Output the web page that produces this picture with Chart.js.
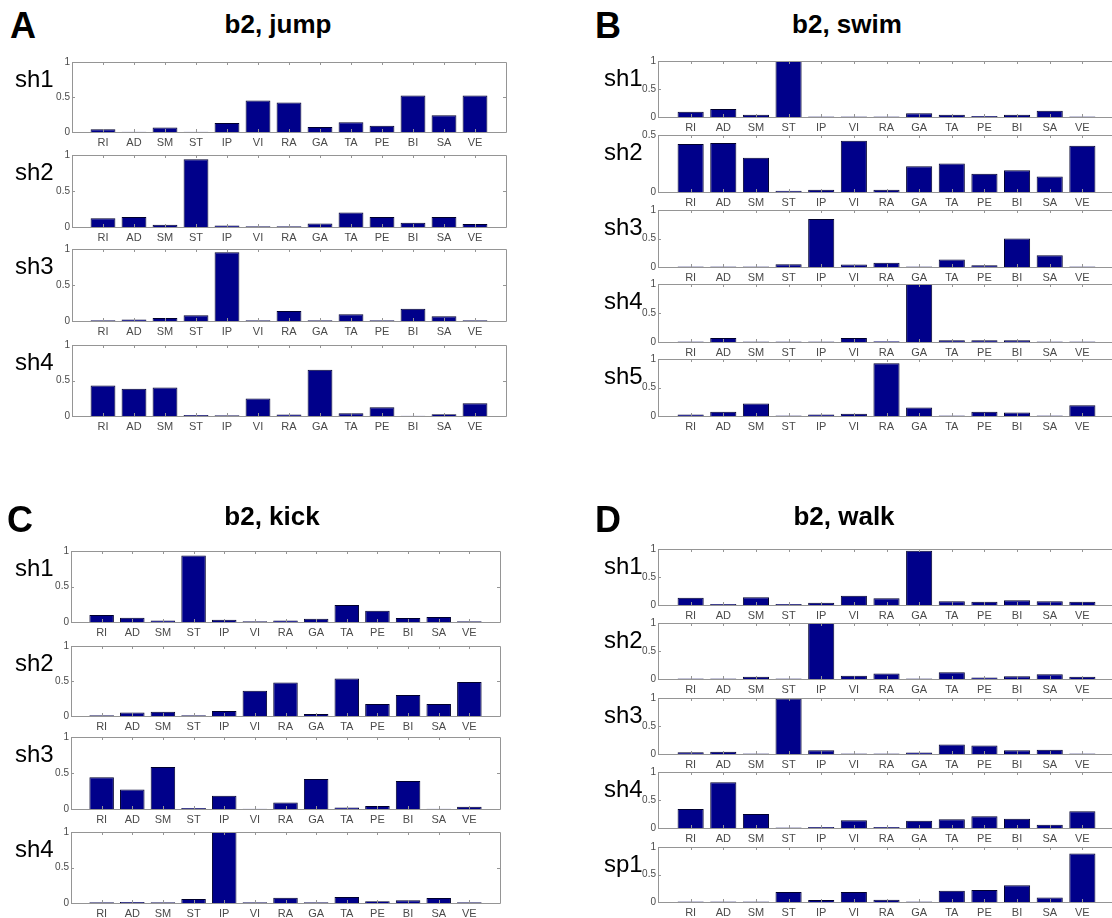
<!DOCTYPE html>
<html>
<head>
<meta charset="utf-8">
<script src="https://cdn.jsdelivr.net/npm/chart.js@4"></script>
<style>
  html, body { margin: 0; padding: 0; background: #fff; }
  #fig { position: relative; width: 1112px; height: 918px; overflow: hidden; font-family: Arial, "Liberation Sans", sans-serif; }
  .txt { position: absolute; white-space: nowrap; line-height: 1; color: #000; }
  .sub { position: absolute; }
</style>
</head>
<body>
<div id="fig"></div>
<script>
// muscles on the x axis (same for every subplot)
const muscles = ['RI', 'AD', 'SM', 'ST', 'IP', 'VI', 'RA', 'GA', 'TA', 'PE', 'BI', 'SA', 'VE'];
const yTicks = [0, 0.5, 1];

// A: b2, jump
const jumpSh1 = [0.04, 0.005, 0.065, 0.005, 0.13, 0.45, 0.42, 0.07, 0.14, 0.09, 0.52, 0.24, 0.52];
const jumpSh2 = [0.12, 0.14, 0.03, 0.94, 0.02, 0.01, 0.01, 0.05, 0.20, 0.14, 0.06, 0.14, 0.04];
const jumpSh3 = [0.01, 0.02, 0.04, 0.08, 0.955, 0.01, 0.14, 0.01, 0.095, 0.01, 0.17, 0.065, 0.01];
const jumpSh4 = [0.43, 0.385, 0.40, 0.015, 0.01, 0.245, 0.02, 0.65, 0.04, 0.125, 0.005, 0.025, 0.18];

// B: b2, swim
const swimSh1 = [0.095, 0.145, 0.04, 1.0, 0.01, 0.01, 0.01, 0.065, 0.04, 0.02, 0.04, 0.11, 0.01];
const swimSh2 = [0.42, 0.43, 0.30, 0.01, 0.02, 0.45, 0.02, 0.225, 0.25, 0.16, 0.19, 0.135, 0.405];
const swimSh3 = [0.01, 0.01, 0.01, 0.05, 0.84, 0.045, 0.075, 0.01, 0.13, 0.03, 0.50, 0.205, 0.01];
const swimSh4 = [0.01, 0.07, 0.01, 0.01, 0.01, 0.07, 0.015, 1.0, 0.03, 0.03, 0.03, 0.01, 0.01];
const swimSh5 = [0.025, 0.075, 0.22, 0.01, 0.025, 0.04, 0.925, 0.15, 0.01, 0.075, 0.06, 0.01, 0.19];

// C: b2, kick
const kickSh1 = [0.10, 0.06, 0.02, 0.935, 0.03, 0.01, 0.02, 0.045, 0.24, 0.16, 0.055, 0.07, 0.01];
const kickSh2 = [0.01, 0.05, 0.06, 0.01, 0.07, 0.36, 0.477, 0.03, 0.534, 0.17, 0.30, 0.17, 0.486];
const kickSh3 = [0.44, 0.27, 0.585, 0.015, 0.185, 0.005, 0.09, 0.415, 0.02, 0.04, 0.39, 0.005, 0.03];
const kickSh4 = [0.01, 0.015, 0.01, 0.055, 1.0, 0.01, 0.075, 0.01, 0.085, 0.025, 0.04, 0.07, 0.01];

// D: b2, walk
const walkSh1 = [0.13, 0.02, 0.14, 0.02, 0.04, 0.165, 0.12, 0.97, 0.065, 0.06, 0.085, 0.065, 0.06];
const walkSh2 = [0.01, 0.01, 0.04, 0.01, 1.0, 0.06, 0.10, 0.01, 0.12, 0.025, 0.05, 0.085, 0.04];
const walkSh3 = [0.03, 0.04, 0.01, 0.99, 0.065, 0.01, 0.01, 0.025, 0.17, 0.15, 0.065, 0.075, 0.01];
const walkSh4 = [0.34, 0.815, 0.25, 0.01, 0.02, 0.14, 0.02, 0.13, 0.155, 0.21, 0.165, 0.06, 0.30];
const walkSp1 = [0.01, 0.01, 0.01, 0.18, 0.035, 0.18, 0.04, 0.01, 0.205, 0.22, 0.305, 0.08, 0.88];

const BAR = '#00008a';
const EDGE = '#00002e';
const AXIS = '#959595';
const LABEL = '#4a4a4a';
const FONT = 'Arial, "Liberation Sans", sans-serif';

const YW = 30;   // y axis width
const XH = 16;   // x axis height
const PT = 8;    // room above the box for the "1" label

// layout of the four panels
const panels = [
  { letter: 'A', letterX: 10, letterBase: 38, title: 'b2, jump', titleX: 278, titleBase: 33,
    left: 72, right: 510, labelX: 15,
    rows: [
      { name: 'sh1', data: jumpSh1, top: 62, h: 70 },
      { name: 'sh2', data: jumpSh2, top: 155, h: 72 },
      { name: 'sh3', data: jumpSh3, top: 249, h: 72 },
      { name: 'sh4', data: jumpSh4, top: 345, h: 71 },
    ] },
  { letter: 'B', letterX: 595, letterBase: 38, title: 'b2, swim', titleX: 847, titleBase: 33,
    left: 658, right: 1119, labelX: 604,
    rows: [
      { name: 'sh1', data: swimSh1, top: 61, h: 56 },
      { name: 'sh2', data: swimSh2, top: 135, h: 57, ymax: 0.5 },
      { name: 'sh3', data: swimSh3, top: 210, h: 57 },
      { name: 'sh4', data: swimSh4, top: 284, h: 58 },
      { name: 'sh5', data: swimSh5, top: 359, h: 57 },
    ] },
  { letter: 'C', letterX: 7, letterBase: 532, title: 'b2, kick', titleX: 272, titleBase: 525,
    left: 71, right: 504, labelX: 15,
    rows: [
      { name: 'sh1', data: kickSh1, top: 551, h: 71 },
      { name: 'sh2', data: kickSh2, top: 646, h: 70 },
      { name: 'sh3', data: kickSh3, top: 737, h: 72 },
      { name: 'sh4', data: kickSh4, top: 832, h: 71 },
    ] },
  { letter: 'D', letterX: 595, letterBase: 532, title: 'b2, walk', titleX: 844, titleBase: 525,
    left: 658, right: 1119, labelX: 604,
    rows: [
      { name: 'sh1', data: walkSh1, top: 549, h: 56 },
      { name: 'sh2', data: walkSh2, top: 623, h: 56 },
      { name: 'sh3', data: walkSh3, top: 698, h: 56 },
      { name: 'sh4', data: walkSh4, top: 772, h: 56 },
      { name: 'sp1', data: walkSp1, top: 847, h: 55 },
    ] },
];

const fig = document.getElementById('fig');

// text placed by its baseline
function addText(str, x, base, size, weight, align) {
  const el = document.createElement('div');
  el.className = 'txt';
  el.textContent = str;
  el.style.fontSize = size + 'px';
  el.style.fontWeight = weight;
  el.style.top = (base - size * 0.846) + 'px';
  if (align === 'center') {
    el.style.left = (x - 200) + 'px';
    el.style.width = '400px';
    el.style.textAlign = 'center';
  } else {
    el.style.left = x + 'px';
  }
  fig.appendChild(el);
}

// box and inward tick marks, matlab style
const matlabBox = {
  id: 'matlabBox',
  afterDraw(chart) {
    const { ctx, chartArea: a, scales } = chart;
    ctx.save();
    ctx.strokeStyle = AXIS;
    ctx.lineWidth = 1;
    ctx.beginPath();
    ctx.rect(Math.round(a.left) + 0.5, Math.round(a.top) + 0.5,
             Math.round(a.right - a.left), Math.round(a.bottom - a.top));
    for (let i = 1; i <= muscles.length; i++) {
      const x = Math.round(scales.x.getPixelForTick(i)) + 0.5;
      ctx.moveTo(x, a.bottom); ctx.lineTo(x, a.bottom - 3);
      ctx.moveTo(x, a.top); ctx.lineTo(x, a.top + 3);
    }
    scales.y.ticks.forEach((t, i) => {
      const y = Math.round(scales.y.getPixelForTick(i)) + 0.5;
      ctx.moveTo(a.left, y); ctx.lineTo(a.left + 3, y);
      ctx.moveTo(a.right, y); ctx.lineTo(a.right - 3, y);
    });
    ctx.stroke();
    ctx.restore();
  }
};

function makeSubplot(p, row) {
  const w = YW + (p.right - p.left);
  const h = PT + row.h + XH;
  const box = document.createElement('div');
  box.className = 'sub';
  box.style.left = (p.left - YW) + 'px';
  box.style.top = (row.top - PT) + 'px';
  const cv = document.createElement('canvas');
  cv.width = w; cv.height = h;
  cv.style.width = w + 'px'; cv.style.height = h + 'px';
  box.appendChild(cv);
  fig.appendChild(box);

  const ymax = row.ymax || 1;
  new Chart(cv, {
    type: 'bar',
    data: {
      // empty slots at both ends give the matlab xlim of [0, 14]
      labels: ['', ...muscles, ''],
      datasets: [{
        data: [null, ...row.data, null],
        backgroundColor: BAR,
        borderColor: EDGE,
        borderWidth: 1,
        categoryPercentage: 1,
        barPercentage: 0.8,
      }]
    },
    options: {
      responsive: false,
      animation: false,
      events: [],
      layout: { padding: { top: PT, right: 0, bottom: 0, left: 0 } },
      plugins: { legend: { display: false }, tooltip: { enabled: false } },
      scales: {
        x: {
          offset: false,
          grid: { display: false, drawTicks: false },
          border: { display: false },
          ticks: { color: LABEL, font: { family: FONT, size: 11 }, padding: 4, autoSkip: false, maxRotation: 0 },
          afterFit: s => { s.height = XH; }
        },
        y: {
          min: 0,
          max: ymax,
          afterBuildTicks: s => { s.ticks = yTicks.filter(v => v <= ymax).map(v => ({ value: v })); },
          grid: { display: false, drawTicks: false },
          border: { display: false },
          ticks: { color: LABEL, font: { family: FONT, size: 10 }, padding: 2, callback: v => String(+v) },
          afterFit: s => { s.width = YW; }
        }
      }
    },
    plugins: [matlabBox]
  });

  addText(row.name, p.labelX, row.top + 25, 24, 'normal');
}

panels.forEach(p => {
  addText(p.letter, p.letterX, p.letterBase, 36, 'bold');
  addText(p.title, p.titleX, p.titleBase, 26, 'bold', 'center');
  p.rows.forEach(r => makeSubplot(p, r));
});
</script>
</body>
</html>
